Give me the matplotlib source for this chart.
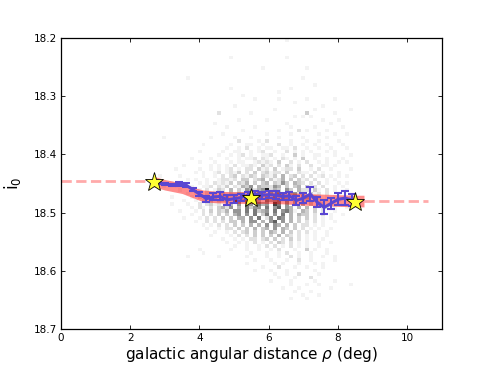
import numpy as np
import matplotlib
matplotlib.use("Agg")
import matplotlib.pyplot as plt

# 2D histogram of stars: bin edges and counts (0-9), rows go from i0=18.20 downwards
hist_x0, hist_dx, hist_nx = 2.45, 0.115, 56
hist_y0, hist_dy = 18.20, 0.006
hist_rows = [
    ".......... .......... .......... .....1.... .......... ......",
    "",
    "",
    "",
    "",
    ".......... .......... .1........ .....1.... .......... ......",
    "",
    "",
    ".......... .......... .........1 .......... 1......... ......",
    "",
    "",
    ".......... 1......... .......... .........1 .......... ......",
    "",
    ".......... .......... .......... .......... ..1....... ......",
    ".......... .......... .1........ ......1... .......... ......",
    ".......... .......... .......... ...1...... .......... ......",
    ".......... .......... ....1..... .......... .......... ......",
    ".......... .......... .......1.. ...1...... 1......1.. ......",
    ".......... .......... .......... .......1.. .......... ......",
    ".......... .......... ..1....... .......... ....1..... ......",
    ".......... .......... .......... ..1....... ..1....... .1....",
    ".......... ........2. ......1... .......... 3......1.. ......",
    ".......... .......... .......... .......1.1 .1........ ......",
    ".......... .......... ...1...... 1......... ....1...1. ......",
    ".......... .......1.. .......... .....1.... ......1... ......",
    ".......... .......... 1......1.. ......1... ..1......1 ......",
    ".......... .......... ....1..... ...1....2. 1....1.... ......",
    ".......... .........1 .......... 1.....1... ...1...1.. 1.....",
    "....1..... ......1... ..1...1... ...1.....1 .....1.... ......",
    ".......... .......... ...2....1. 2.....1... 1..1....1. ......",
    ".......... ....1..... .1...11..1 ...2..1..1 ..1..1...1 ......",
    ".......... .......... 1..1.2..1. 11..11.2.. 1..1..1... 1.....",
    ".......... ...1.....1 ..11..1.12 ..1..2.1.1 .1...1.1.. ......",
    ".......... ........1. .1.12.1..1 12..1..3.1 ..11...1.. .1....",
    ".......... .1....1... 1..1.112.2 1.1.21.1.3 ..1..1...1 ......",
    ".......... ...1...1.. .1.11..121 21.3..2.1. 2..1.1..1. 1.....",
    ".........1 ......1.1. 1.2.1121.3 12.2.31.2. .2..11.1.. ......",
    ".......1.. ...1..1.1. 12.1.22.31 2.3.122.3. .1.2..1... .1....",
    ".......... ..1.1..12. 1213.2.3.2 3122.3..21 1.2.1...1. ......",
    "...1....1. ....1..1.2 .23.2132.3 213.4.23.2 .2.12.1.1. 1.....",
    ".......... 1.1..1..12 212.33.234 .3124.3.31 2.2..1.1.. ......",
    "......1... ...1.1.212 13.324.3.3 4.3253.432 .2.2.1..1. 1.....",
    "....1..... .1..112.21 3.21435.43 3254.3.34. 312.2..1.1 ......",
    "........1. ...1.2.132 .4.3154245 9243.53.42 2.31.2.1.. 1.....",
    ".......... 1.1..2.2.3 13243.5254 .5364.4523 .312.2..1. ......",
    "......1... .1.2.213.3 4241.56.52 5.6354.3.4 4.32.1.1.. .1....",
    ".........1 ..1.2.3.32 3.8346.64. 6456.5.4.3 3.32.1..1. ......",
    "......1... 1..2.2312. 24.5.65.64 5.86.5.4.4 .3.32.1... ......",
    ".......... .1.21.2.34 25.4.6355. 6.57.54.4. 4.3.22.1.. 1.....",
    "........1. ..1.2.3.32 4.55.6.634 5.6.5641.4 3.3.2..1.. ......",
    ".......... .1..2.2.3. 3.45.5.6.3 6.5.6.4.43 3.2.2.1..1 ......",
    ".........1 ...1.2.2.3 .3.44.5.6. 25.65.4.3. 3.2.1.1... ......",
    ".......... ..1..2.2.2 .33.4.55.4 .57.5.4.3. 2.2.1..1.. ......",
    ".......... ....1.1.2. 2.3.3.4.4. 5.54.4.3.2 2.1.1..... ......",
    ".......... .....1..1. 22.3.3.4.3 4.5.43.3.2 .1.1..1... ......",
    ".......... .......1.. 1.2.23.3.3 .43.4.3.2. 2.1..1.... ......",
    ".......... ......1... .1.2.2.3.3 .3.4.32.2. 1.1..1.... ......",
    ".......... .........1 ..1.1.22.2 3.3.2.3.2. 1.1.1..... ......",
    ".......... .......... 1..1.1.2.1 .2.32.2.1. 1..1..1... ......",
    ".......... .......... ..1..1..1. 2.2.1.2.1. 1..1...... ......",
    ".......... ...1...... .1...1..1. .1.2...1.. 3.1..1.... ......",
    ".......... ....1..... ......1... 1..1.2..1. .1...1.... ......",
    "..........1 .......1.. ....1....1 ..1..2.1.. 1..1..1... ......",
    ".......... .......... .......1.. .1...1..2. .1.....1.. ......",
    ".......... .......... .....1.... ..1.1...1. ..1.1..... ......",
    ".......... .......... .........1 ...2...1.. 1...1..... ......",
    ".......... .......... .......1.. .1...1.... ..1....... ......",
    ".......... .......... .......... ..1..1..2. ...1...... ......",
    ".......... .......... .......... ...1...1.. .2........ ......",
    ".......... .......... .......... .1....1... ..1....1.. ......",
    ".......... .......... .......... ......1... 1..1...... .1....",
    ".......... .......... .......... ....1...1. ......1... ......",
    ".......... .......... .......... .......1.. .1........ ......",
    ".......... .......... .......... .........1 ...1...... ......",
    ".......... .......... .......... ......1... 1......... ......",
]

# running median with errors (blue)
med_x = [2.8, 3.0, 3.2, 3.4, 3.6, 3.8, 4.0, 4.2, 4.4, 4.6, 4.8, 5.0, 5.2, 5.4, 5.6,
         5.8, 6.0, 6.2, 6.4, 6.6, 6.8, 7.0, 7.2, 7.4, 7.6, 7.8, 8.0, 8.2, 8.4]
med_y = [18.449, 18.451, 18.452, 18.451, 18.452, 18.460, 18.468, 18.476, 18.473, 18.472,
         18.478, 18.476, 18.474, 18.470, 18.468, 18.470, 18.469, 18.470, 18.472, 18.471,
         18.479, 18.475, 18.468, 18.482, 18.491, 18.484, 18.477, 18.475, 18.478]
med_err = [0.002, 0.002, 0.002, 0.003, 0.003, 0.003, 0.004, 0.005, 0.006, 0.007,
           0.009, 0.007, 0.006, 0.006, 0.005, 0.006, 0.006, 0.007, 0.006, 0.007,
           0.008, 0.008, 0.012, 0.009, 0.012, 0.010, 0.010, 0.012, 0.010]

# fitted trend band (red)
band_x = [2.65, 3.0, 3.5, 3.8, 4.1, 4.5, 5.0, 5.5, 6.0, 6.5, 7.0, 7.5, 8.0, 8.5, 8.75]
band_y = [18.446, 18.452, 18.458, 18.465, 18.471, 18.473, 18.474, 18.474, 18.474,
          18.475, 18.477, 18.478, 18.479, 18.480, 18.480]
band_w = [0.009, 0.009, 0.009, 0.009, 0.010, 0.010, 0.010, 0.010, 0.010,
          0.010, 0.010, 0.010, 0.010, 0.010, 0.010]

# extrapolation of the trend (dashed)
ext_left_x, ext_left_y = [0.0, 2.65], [18.445, 18.445]
ext_right_x, ext_right_y = [8.75, 10.6], [18.480, 18.480]

# reference stars
star_x = [2.7, 5.5, 8.5]
star_y = [18.448, 18.475, 18.482]


def parse_grid(rows, ncol):
    grid = np.zeros((len(rows), ncol))
    for i, row in enumerate(rows):
        s = row.replace(" ", "")[:ncol]
        for j, ch in enumerate(s):
            if ch.isdigit():
                grid[i, j] = int(ch)
    return grid


counts = parse_grid(hist_rows, hist_nx)
xedges = hist_x0 + hist_dx * np.arange(hist_nx + 1)
yedges = hist_y0 + hist_dy * np.arange(len(hist_rows) + 1)

fig = plt.figure(figsize=(4.91, 3.77), dpi=100)
ax = fig.add_axes([0.124, 0.127, 0.776, 0.772])

ax.pcolormesh(xedges, yedges, np.ma.masked_equal(counts, 0), cmap="Greys",
              vmin=0, vmax=10, zorder=1)

ax.plot(ext_left_x, ext_left_y, "--", color="#ffaaaa", lw=2, zorder=2)
ax.plot(ext_right_x, ext_right_y, "--", color="#ffaaaa", lw=2, zorder=2)

bx = np.array(band_x)
by = np.array(band_y)
bw = np.array(band_w)
ax.fill_between(bx, by - bw, by + bw, color="red", alpha=0.45, lw=0, zorder=3)

ax.errorbar(med_x, med_y, yerr=med_err, color="#5a46d2", lw=2.2, elinewidth=1.5,
            capsize=3, capthick=1.5, zorder=4)

ax.plot(star_x, star_y, "*", ms=14, mfc="#ffff33", mec="black", mew=0.6, zorder=5)

ax.set_xlim(0, 11)
ax.set_ylim(18.7, 18.2)
ax.set_xticks([0, 2, 4, 6, 8, 10])
ax.set_yticks([18.2, 18.3, 18.4, 18.5, 18.6, 18.7])
ax.tick_params(direction="in", length=3, width=0.6, labelsize=7.5, pad=2.5,
               top=True, right=True)
for sp in ax.spines.values():
    sp.set_linewidth(0.9)

ax.set_xlabel(r"galactic angular distance $\rho$ (deg)", fontsize=11, labelpad=2)
ax.set_ylabel(r"i$_0$", fontsize=12, labelpad=8)

fig.savefig("out.png", dpi=100)
